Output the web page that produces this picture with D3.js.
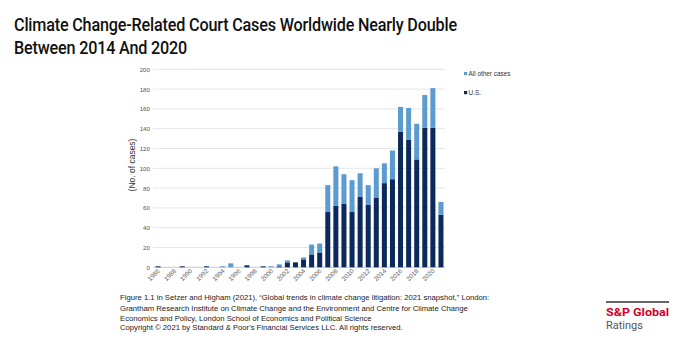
<!DOCTYPE html>
<html><head><meta charset="utf-8">
<script src="https://cdn.jsdelivr.net/npm/d3@7"></script>
<style>html,body{margin:0;padding:0;background:#fff;}svg{display:block;}</style>
</head><body>
<script>
const years = d3.range(1986, 2022);
const usCases =    [1,0,0,1,0,0,1,0,0,0,0,2,0,1,0,1,5,5,8,13,15,56,62,64,56,71,63,70,85,89,137,129,109,141,141,53];
const otherCases = [0,0,0,0,0,0,0,0,1,4,0,0,0,0,1,2,2,0,2,10,9,27,40,30,32,24,20,30,20,29,25,32,36,33,40,13];
const yTicks = [0,20,40,60,80,100,120,140,160,180,200];
const xLabelYears = d3.range(1986, 2021, 2);
const seriesNames = ["All other cases", "U.S."];
const colors = {us: "#0b2a5b", other: "#5b9bcf"};

const W = 679, H = 340;
const svg = d3.select("body").append("svg").attr("width", W).attr("height", H);

// Title (uniform horizontal condensing)
const titleLines = ["Climate Change-Related Court Cases Worldwide Nearly Double", "Between 2014 And 2020"];
const tg = svg.append("g");
const tt = tg.selectAll("text").data(titleLines).join("text")
  .attr("x", 0).attr("y", (d, i) => 31 + i * 23)
  .attr("font-family", "Roboto").attr("font-weight", 500).attr("font-size", 18).attr("fill", "#111")
  .attr("letter-spacing", -0.2)
  .text(d => d);
const w1 = tt.nodes()[0].getComputedTextLength();
const sx = 443 / w1;
tg.attr("transform", `translate(14,0) scale(${sx},1)`);

const x = d3.scaleBand().domain(years).range([154, 445]).paddingInner(0.38).paddingOuter(0.19);
const y = d3.scaleLinear().domain([0, 200]).range([267.3, 69.3]);

// gridlines
svg.append("g").selectAll("line").data(yTicks).join("line")
  .attr("x1", 153).attr("x2", 445).attr("y1", d => y(d)).attr("y2", d => y(d))
  .attr("stroke", d => d === 0 ? "#c8c8c8" : "#e6e6e6").attr("stroke-width", 1);

// y axis
const yAxis = svg.append("g").attr("transform", "translate(151,0)")
  .call(d3.axisLeft(y).tickValues(yTicks).tickSize(0).tickPadding(1));
yAxis.select(".domain").remove();
yAxis.selectAll("text").attr("font-family", "Liberation Sans, Arial").attr("font-size", 6.2).attr("fill", "#555");

// y title
svg.append("text").attr("transform", "translate(135,165) rotate(-90)")
  .attr("text-anchor", "middle").attr("font-family", "Liberation Sans, Arial").attr("font-size", 8.5).attr("fill", "#333")
  .text("(No. of cases)");

// bars
const data = years.map((yr, i) => ({yr, us: usCases[i], other: otherCases[i]}));
const stack = d3.stack().keys(["us", "other"])(data);
svg.append("g").selectAll("g").data(stack).join("g")
  .attr("fill", d => colors[d.key])
  .selectAll("rect").data(d => d).join("rect")
  .attr("x", d => x(d.data.yr)).attr("width", x.bandwidth())
  .attr("y", d => y(d[1])).attr("height", d => y(d[0]) - y(d[1]));

// x axis labels
const xAxis = svg.append("g").attr("transform", "translate(0,268)")
  .call(d3.axisBottom(x).tickValues(xLabelYears).tickSize(0).tickPadding(0));
xAxis.select(".domain").remove();
xAxis.selectAll("text").attr("font-family", "Liberation Sans, Arial").attr("font-size", 6.4).attr("fill", "#666")
  .attr("text-anchor", "end").attr("dy", "0.3em").attr("dx", "0.2em")
  .attr("transform", "translate(0,3) rotate(-45)");

// legend
const lg = svg.append("g").selectAll("g").data(seriesNames).join("g")
  .attr("transform", (d, i) => `translate(464,${75 + i * 19})`);
lg.append("rect").attr("x", 0).attr("y", -3).attr("width", 3.2).attr("height", 3.2)
  .attr("fill", (d, i) => i === 0 ? colors.other : colors.us);
lg.append("text").attr("x", 4.5).attr("y", 1).attr("dy", "0.05em")
  .attr("font-family", "Liberation Sans, Arial").attr("font-size", 6.4).attr("fill", "#333").text(d => d);

// footnote
const foot = [
  "Figure 1.1 in Setzer and Higham (2021), “Global trends in climate change litigation: 2021 snapshot,” London:",
  "Grantham Research Institute on Climate Change and the Environment and Centre for Climate Change",
  "Economics and Policy, London School of Economics and Political Science",
  "Copyright © 2021 by Standard & Poor's Financial Services LLC. All rights reserved."
];
const footY = [300, 311, 321, 330];
svg.append("g").selectAll("text").data(foot).join("text")
  .attr("x", 120).attr("y", (d, i) => footY[i])
  .attr("font-family", "Liberation Sans, Arial").attr("font-size", 7.7).attr("fill", "#222").text(d => d);

// logo
svg.append("line").attr("x1", 606).attr("x2", 669).attr("y1", 302).attr("y2", 302).attr("stroke", "#333").attr("stroke-width", 1.4);
svg.append("text").attr("x", 606).attr("y", 316).attr("font-family", "Roboto").attr("font-weight", 700)
  .attr("font-size", 11).attr("fill", "#d5002b").attr("textLength", 63).attr("lengthAdjust", "spacingAndGlyphs").text("S&P Global");
svg.append("text").attr("x", 606).attr("y", 329).attr("font-family", "Roboto").attr("font-weight", 400)
  .attr("font-size", 11).attr("fill", "#555").text("Ratings");
</script>
</body></html>
